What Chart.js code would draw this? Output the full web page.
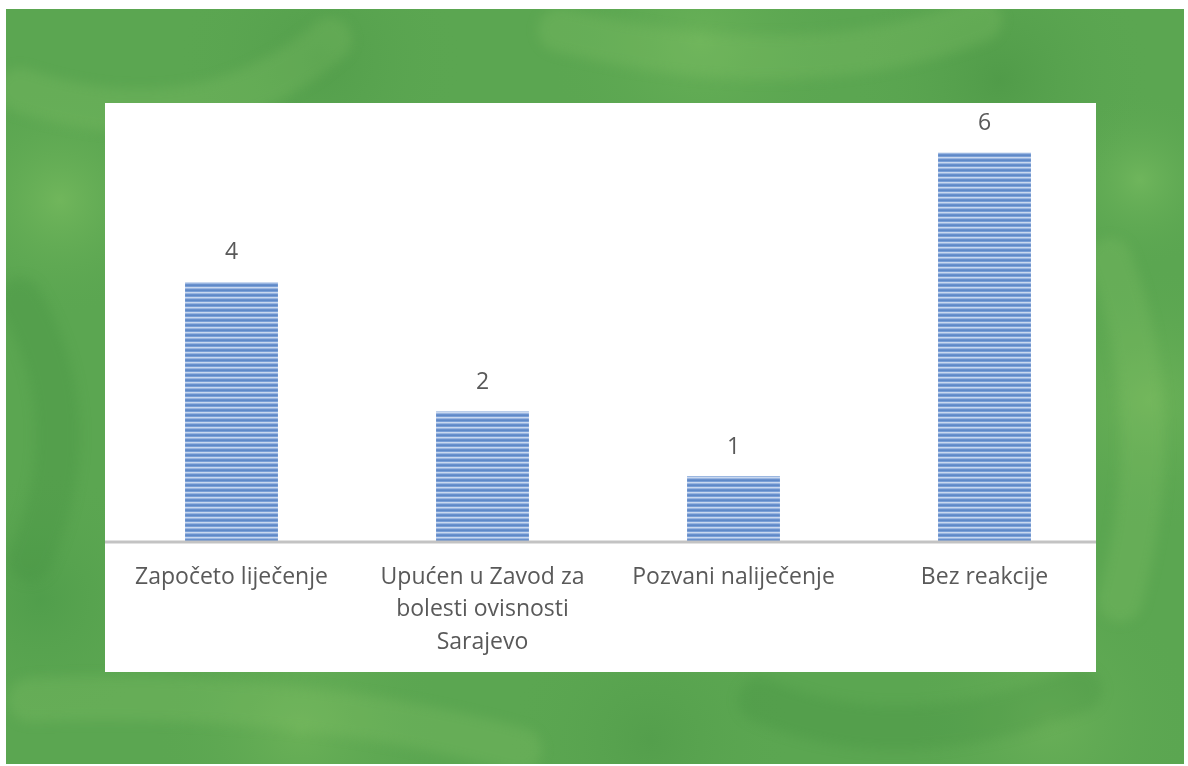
<!DOCTYPE html>
<html>
<head>
<meta charset="utf-8">
<script src="https://cdn.jsdelivr.net/npm/chart.js"></script>
<style>
  html, body { margin: 0; padding: 0; background: #fff; }
  #wrap { width: 1188px; height: 766px; }
</style>
</head>
<body>
<div id="wrap"><canvas id="outcomeChart" width="1188" height="766"></canvas></div>
<script>
// chart data
var categories = [
    'Započeto liječenje',
    ['Upućen u Zavod za', 'bolesti ovisnosti', 'Sarajevo'],
    'Pozvani naliječenje',
    'Bez reakcije'
];
var counts = [4, 2, 1, 6];

var textColor = '#595959';
var fontName = '"Open Sans", Lato, sans-serif';

// striped fill like the original bars
function makeStripes(ctx) {
    var c = document.createElement('canvas');
    c.width = 4;
    c.height = 5;
    var p = c.getContext('2d');
    var rows = ['#5f89c8', '#7a9fd6', '#c9d8ef', '#9ab6e1', '#6a91cd'];
    rows.forEach(function (col, i) {
        p.fillStyle = col;
        p.fillRect(0, i, 4, 1);
    });
    return ctx.createPattern(c, 'repeat');
}

// green textured backdrop + white panel
var backdrop = {
    id: 'backdrop',
    beforeDraw: function (chart) {
        var g = chart.ctx;
        g.save();
        g.fillStyle = '#ffffff';
        g.fillRect(0, 0, chart.width, chart.height);
        g.fillStyle = '#5ba651';
        g.fillRect(6, 9, 1178, 755);
        g.beginPath();
        g.rect(6, 9, 1178, 755);
        g.clip();
        var blobs = [
            [60, 200, 120, 'rgba(130,195,100,0.55)'],
            [320, 60, 140, 'rgba(75,150,70,0.5)'],
            [700, 40, 160, 'rgba(120,190,95,0.45)'],
            [1000, 80, 150, 'rgba(70,145,65,0.5)'],
            [1150, 400, 140, 'rgba(125,190,95,0.5)'],
            [40, 600, 130, 'rgba(70,150,70,0.5)'],
            [300, 730, 150, 'rgba(125,190,95,0.45)'],
            [650, 740, 140, 'rgba(75,150,70,0.45)'],
            [1050, 720, 150, 'rgba(120,185,95,0.5)'],
            [1140, 180, 90, 'rgba(135,200,105,0.45)']
        ];
        blobs.forEach(function (b) {
            var grad = g.createRadialGradient(b[0], b[1], 0, b[0], b[1], b[2]);
            grad.addColorStop(0, b[3]);
            grad.addColorStop(1, 'rgba(90,165,80,0)');
            g.fillStyle = grad;
            g.fillRect(b[0] - b[2], b[1] - b[2], b[2] * 2, b[2] * 2);
        });
        g.lineCap = 'round';
        g.lineWidth = 44;
        g.filter = 'blur(6px)';
        g.strokeStyle = 'rgba(140,200,110,0.22)';
        g.beginPath();
        g.moveTo(20, 90); g.quadraticCurveTo(200, 150, 330, 40);
        g.moveTo(560, 30); g.quadraticCurveTo(800, 90, 980, 20);
        g.moveTo(1110, 260); g.quadraticCurveTo(1170, 420, 1120, 600);
        g.moveTo(30, 700); g.quadraticCurveTo(300, 690, 520, 750);
        g.stroke();
        g.strokeStyle = 'rgba(60,135,60,0.22)';
        g.beginPath();
        g.moveTo(20, 300); g.quadraticCurveTo(90, 420, 30, 560);
        g.moveTo(760, 700); g.quadraticCurveTo(900, 760, 1080, 690);
        g.stroke();
        g.filter = 'none';
        g.restore();

        g.fillStyle = '#ffffff';
        g.fillRect(105, 103, 991, 569);
    },
    afterDatasetsDraw: function (chart) {
        var g = chart.ctx;
        var area = chart.chartArea;
        g.save();
        g.strokeStyle = '#c3c3c3';
        g.lineWidth = 3;
        g.beginPath();
        g.moveTo(105, area.bottom + 1);
        g.lineTo(1096, area.bottom + 1);
        g.stroke();

        // value labels above bars
        g.fillStyle = textColor;
        g.font = '23px ' + fontName;
        g.textAlign = 'center';
        g.textBaseline = 'middle';
        chart.getDatasetMeta(0).data.forEach(function (bar, i) {
            g.fillText(counts[i], bar.x, bar.y - 29);
        });
        g.restore();
    }
};

var ctx = document.getElementById('outcomeChart').getContext('2d');

var outcomeChart = new Chart(ctx, {
    type: 'bar',
    data: {
        labels: categories,
        datasets: [{
            data: counts,
            backgroundColor: makeStripes(ctx),
            borderWidth: 0,
            categoryPercentage: 1,
            barPercentage: 0.37
        }]
    },
    options: {
        responsive: false,
        animation: false,
        layout: {
            padding: { left: 106, right: 78, top: 120, bottom: 95 }
        },
        scales: {
            x: {
                grid: { display: false, drawTicks: false },
                border: { display: false },
                ticks: {
                    color: textColor,
                    font: { family: fontName, size: 23, lineHeight: 1.41 },
                    padding: 20,
                    maxRotation: 0,
                    autoSkip: false
                },
                afterFit: function (scale) { scale.height = 130; }
            },
            y: {
                display: false,
                min: 0,
                max: 6.5
            }
        },
        plugins: {
            legend: { display: false },
            tooltip: { enabled: false }
        }
    },
    plugins: [backdrop]
});
</script>
</body>
</html>
